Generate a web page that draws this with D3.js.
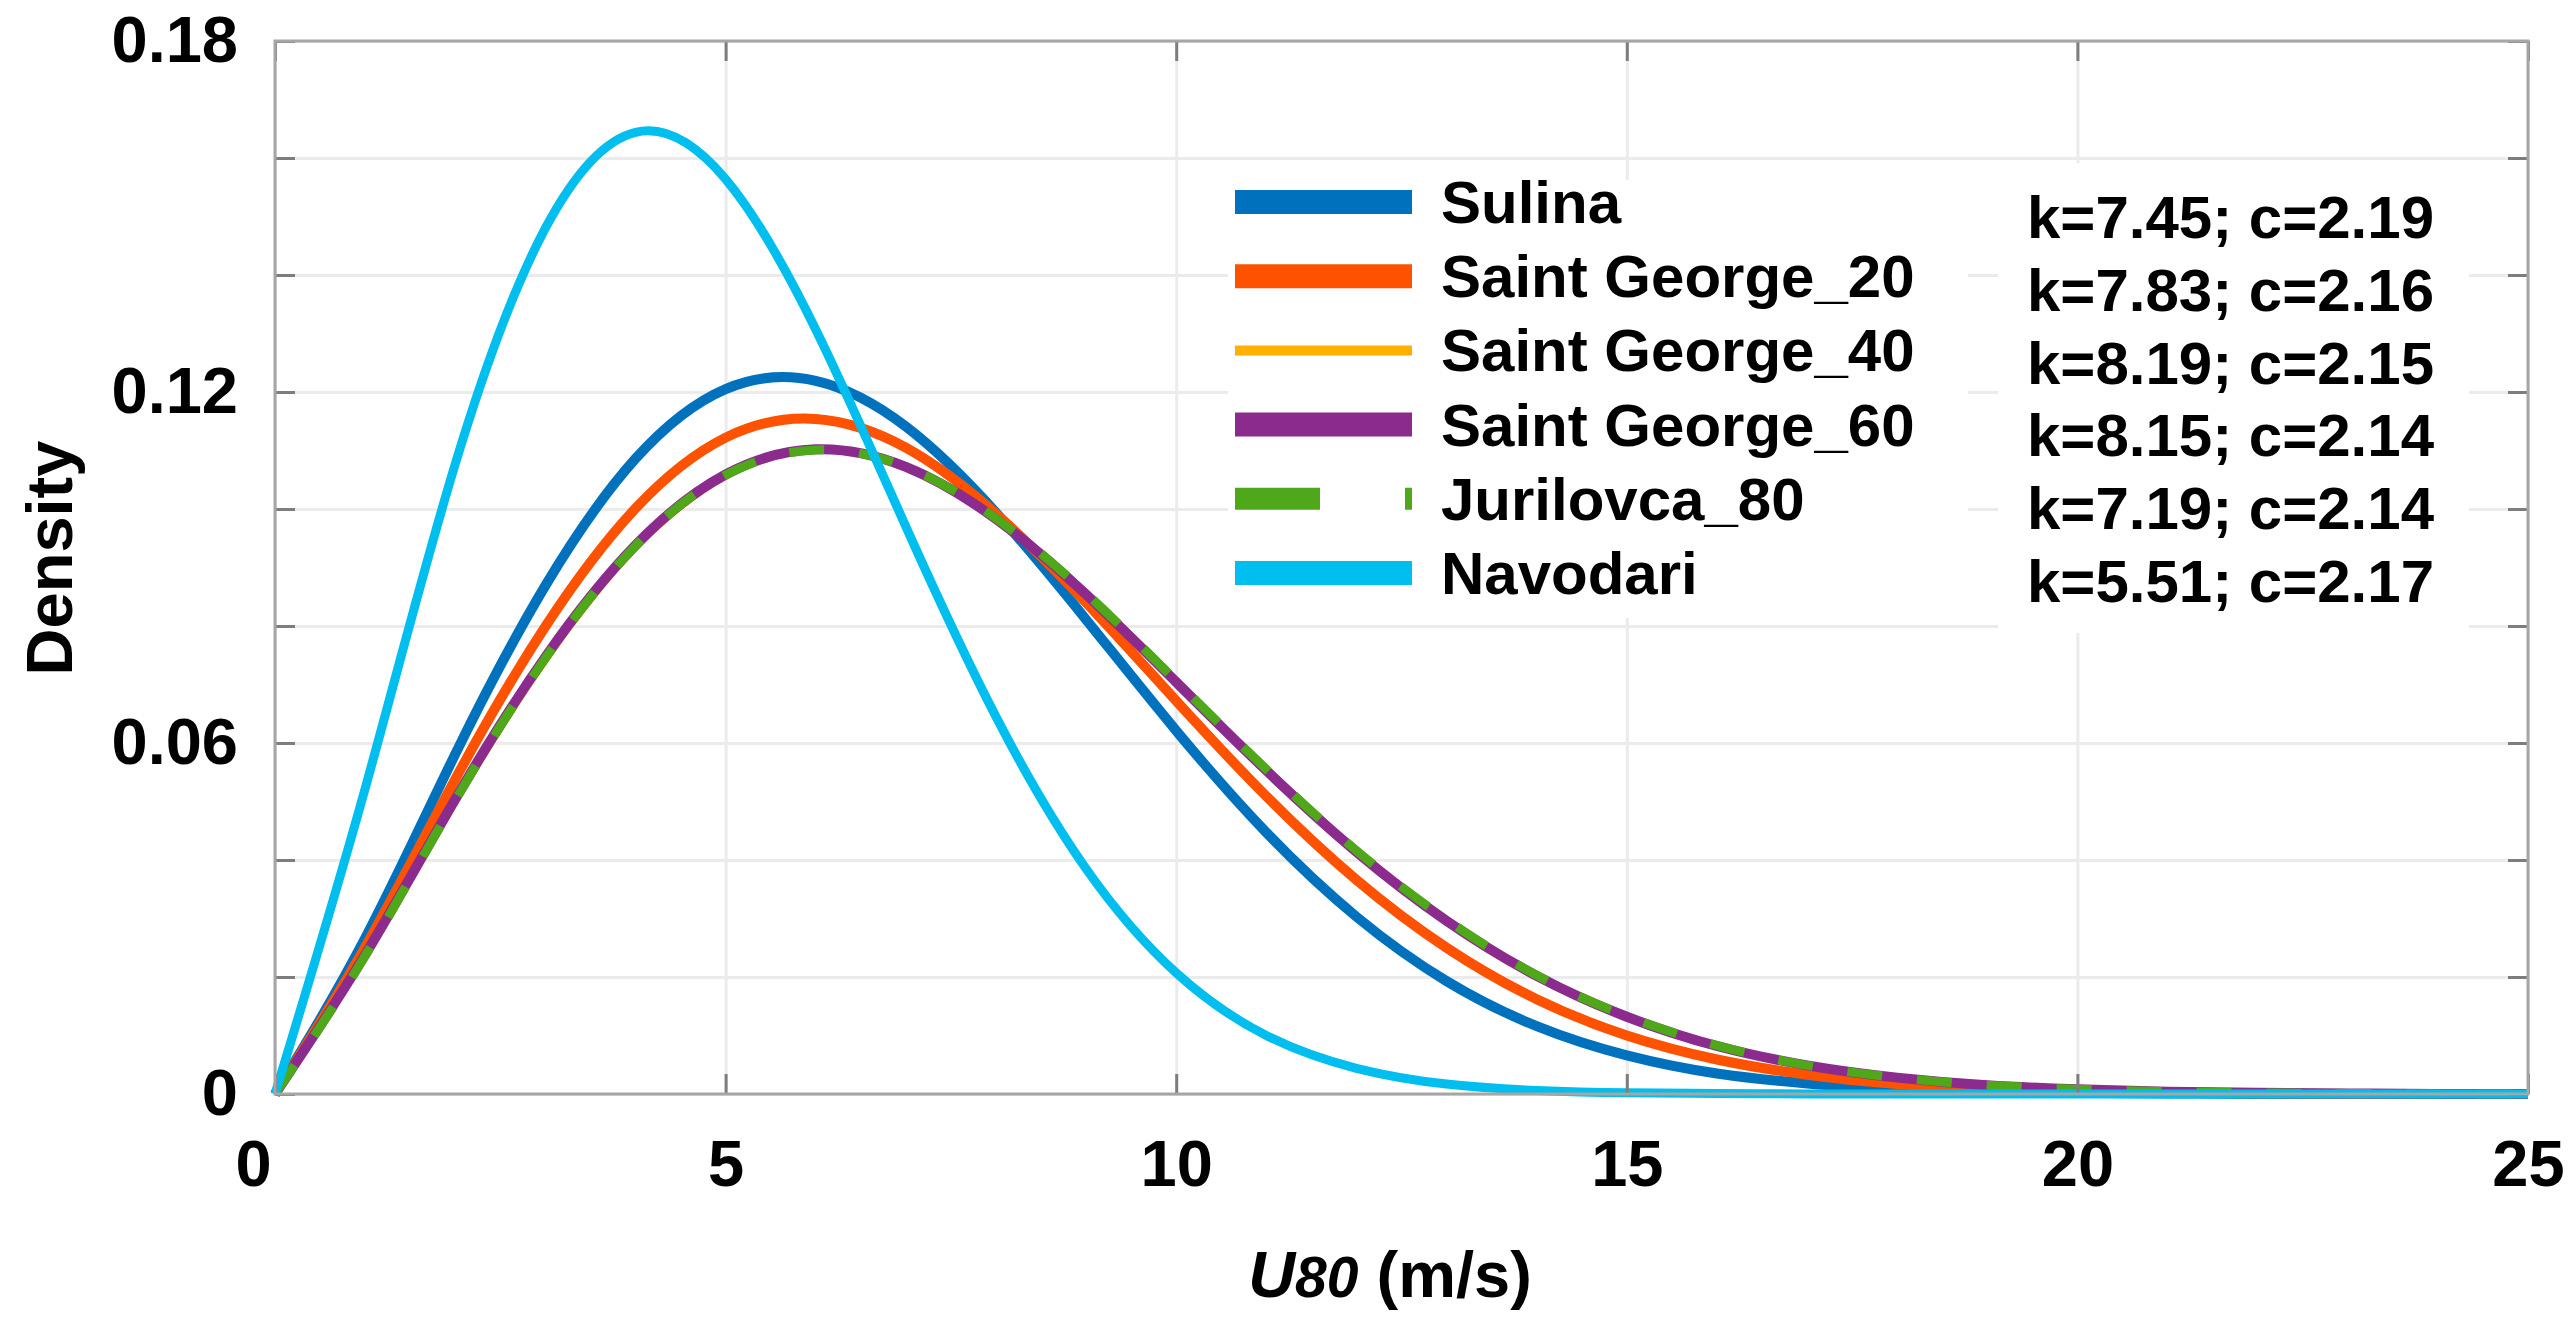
<!DOCTYPE html>
<html>
<head>
<meta charset="utf-8">
<script src="https://d3js.org/d3.v7.min.js"></script>
<style>
  body { margin: 0; background: #fff; }
  svg text { font-family: "Liberation Sans", Arial, sans-serif; font-weight: bold; fill: #000; }
</style>
</head>
<body>
<svg id="chart" width="2569" height="1333"></svg>
<script>
// wind speed samples (m/s) and density values
const speeds = [0, 1, 2, 3, 4, 5, 6, 7, 8, 9, 10, 11, 12, 13, 14, 15, 16, 17, 18, 19, 20, 21, 22, 23, 24, 25];
const sulina = [0, 0.0266, 0.0581, 0.0869, 0.1086, 0.1205, 0.1219, 0.1141, 0.0994, 0.0811, 0.0621, 0.0447, 0.0303, 0.0193, 0.0116, 0.0066, 0.0035, 0.0018, 0.0008, 0.0004, 0.0002, 0.0001, 0, 0, 0, 0];
const saintGeorge20 = [0, 0.0251, 0.0538, 0.0799, 0.1001, 0.1122, 0.1154, 0.1105, 0.0992, 0.0840, 0.0672, 0.0509, 0.0366, 0.0250, 0.0162, 0.0100, 0.0059, 0.0033, 0.0017, 0.0009, 0.0004, 0.0002, 0.0001, 0, 0, 0];
const saintGeorge40 = [0, 0.0231, 0.0494, 0.0737, 0.0930, 0.1053, 0.1100, 0.1074, 0.0987, 0.0860, 0.0711, 0.0559, 0.0420, 0.0300, 0.0205, 0.0134, 0.0083, 0.0050, 0.0028, 0.0015, 0.0008, 0.0004, 0.0002, 0.0001, 0, 0];
const saintGeorge60 = [0, 0.0238, 0.0504, 0.0747, 0.0938, 0.1059, 0.1102, 0.1072, 0.0983, 0.0854, 0.0704, 0.0553, 0.0414, 0.0296, 0.0202, 0.0132, 0.0082, 0.0049, 0.0028, 0.0015, 0.0008, 0.0004, 0.0002, 0.0001, 0, 0];
const jurilovca80 = [0, 0.0236, 0.0502, 0.0745, 0.0937, 0.1058, 0.1101, 0.1072, 0.0984, 0.0856, 0.0706, 0.0555, 0.0416, 0.0298, 0.0203, 0.0133, 0.0083, 0.0049, 0.0028, 0.0015, 0.0008, 0.0004, 0.0002, 0.0001, 0, 0];
const navodari = [0, 0.0522, 0.1077, 0.1480, 0.1644, 0.1564, 0.1307, 0.0970, 0.0645, 0.0385, 0.0207, 0.0100, 0.0044, 0.0017, 0.0006, 0.0002, 0.0001, 0, 0, 0, 0, 0, 0, 0, 0, 0];

const seriesNames = ["Sulina", "Saint George_20", "Saint George_40", "Saint George_60", "Jurilovca_80", "Navodari"];
const seriesValues = [sulina, saintGeorge20, saintGeorge40, saintGeorge60, jurilovca80, navodari];
const paramLabels = ["k=7.45; c=2.19", "k=7.83; c=2.16", "k=8.19; c=2.15", "k=8.15; c=2.14", "k=7.19; c=2.14", "k=5.51; c=2.17"];

const xTicks = [0, 5, 10, 15, 20, 25];
const yTicks = [0, 0.02, 0.04, 0.06, 0.08, 0.1, 0.12, 0.14, 0.16, 0.18];
const yLabels = { "0": "0", "0.06": "0.06", "0.12": "0.12", "0.18": "0.18" };

const colors = ["#0072BD", "#FF5200", "#FFB000", "#8B2B8E", "#4FA819", "#00BEEE"];
const widths = [10, 10, 4, 10, 9, 9];
const legendWidths = [24, 24, 10, 24, 22, 24];

const pLeft = 275, pRight = 2528, pTop = 41, pBottom = 1094;
const svg = d3.select("#chart");

const x = d3.scaleLinear().domain([0, 25]).range([pLeft, pRight]);
const y = d3.scaleLinear().domain([0, 0.18]).range([pBottom, pTop]);

// grid
svg.append("g")
    .attr("transform", "translate(0," + pBottom + ")")
    .call(d3.axisBottom(x).tickValues(xTicks).tickSize(-(pBottom - pTop)).tickFormat(""))
    .call(g => g.select(".domain").remove())
    .selectAll("line").attr("stroke", "#ebebeb").attr("stroke-width", 3);
svg.append("g")
    .attr("transform", "translate(" + pLeft + ",0)")
    .call(d3.axisLeft(y).tickValues(yTicks).tickSize(-(pRight - pLeft)).tickFormat(""))
    .call(g => g.select(".domain").remove())
    .selectAll("line").attr("stroke", "#ebebeb").attr("stroke-width", 3);

// legend and parameter boxes sit over the grid
svg.append("rect").attr("x", 1228).attr("y", 180).attr("width", 740).attr("height", 438).attr("fill", "#fff");
svg.append("rect").attr("x", 1998).attr("y", 163).attr("width", 471).attr("height", 470).attr("fill", "#fff");

// curves
const line = d3.line()
    .x((d, i) => x(speeds[i]))
    .y(d => y(d))
    .curve(d3.curveNatural);

svg.append("g").selectAll("path").data(seriesValues).enter()
    .append("path")
    .attr("d", d => line(d))
    .attr("fill", "none")
    .attr("stroke", (d, i) => colors[i])
    .attr("stroke-width", (d, i) => widths[i])
    .attr("stroke-dasharray", (d, i) => i === 4 ? "35,35" : null)
    .attr("stroke-linejoin", "round");

// axes frame and inward ticks
const tickStyle = g => {
    g.select(".domain").remove();
    g.selectAll(".tick line").attr("stroke", "#7d7d7d").attr("stroke-width", 3);
};
svg.append("g")
    .attr("transform", "translate(0," + pBottom + ")")
    .call(d3.axisBottom(x).tickValues(xTicks).tickSize(-20).tickPadding(46).tickFormat(d3.format("d")))
    .call(tickStyle)
    .selectAll("text").attr("font-size", 65).attr("dx", d => d === 0 ? -22 : 0);
svg.append("g")
    .attr("transform", "translate(0," + pTop + ")")
    .call(d3.axisTop(x).tickValues(xTicks).tickSize(-20).tickFormat(""))
    .call(tickStyle);
svg.append("g")
    .attr("transform", "translate(" + pLeft + ",0)")
    .call(d3.axisLeft(y).tickValues(yTicks).tickSize(-20).tickPadding(37)
        .tickFormat(d => yLabels[String(+d.toFixed(2))] || ""))
    .call(tickStyle)
    .selectAll("text").attr("font-size", 65);
svg.append("g")
    .attr("transform", "translate(" + pRight + ",0)")
    .call(d3.axisRight(y).tickValues(yTicks).tickSize(-20).tickFormat(""))
    .call(tickStyle);
svg.append("rect")
    .attr("x", pLeft).attr("y", pTop)
    .attr("width", pRight - pLeft).attr("height", pBottom - pTop)
    .attr("fill", "none").attr("stroke", "#a6a6a6").attr("stroke-width", 3);

// axis titles
const xt = svg.append("text").attr("x", 1390).attr("y", 1297).attr("text-anchor", "middle").attr("font-size", 65);
xt.append("tspan").attr("font-style", "italic").text("U");
xt.append("tspan").attr("font-style", "italic").attr("font-size", 57).text("80");
xt.append("tspan").text(" (m/s)");

svg.append("text")
    .attr("transform", "translate(72,558) rotate(-90)")
    .attr("text-anchor", "middle")
    .attr("font-size", 65)
    .text("Density");

// legend
const legend = svg.append("g").selectAll("g").data(seriesNames).enter()
    .append("g")
    .attr("transform", (d, i) => "translate(0," + (202 + i * 74.2) + ")");
legend.append("line")
    .attr("x1", 1235).attr("x2", 1412)
    .attr("stroke", (d, i) => colors[i])
    .attr("stroke-width", (d, i) => legendWidths[i])
    .attr("stroke-dasharray", (d, i) => i === 4 ? "85,85" : null);
legend.append("text")
    .attr("x", 1441).attr("dy", "0.35em")
    .attr("font-size", 60)
    .text(d => d);

svg.append("g").selectAll("text").data(paramLabels).enter()
    .append("text")
    .attr("x", 2027)
    .attr("y", (d, i) => 217 + i * 72.8)
    .attr("dy", "0.35em")
    .attr("font-size", 60)
    .text(d => d);
</script>
</body>
</html>
